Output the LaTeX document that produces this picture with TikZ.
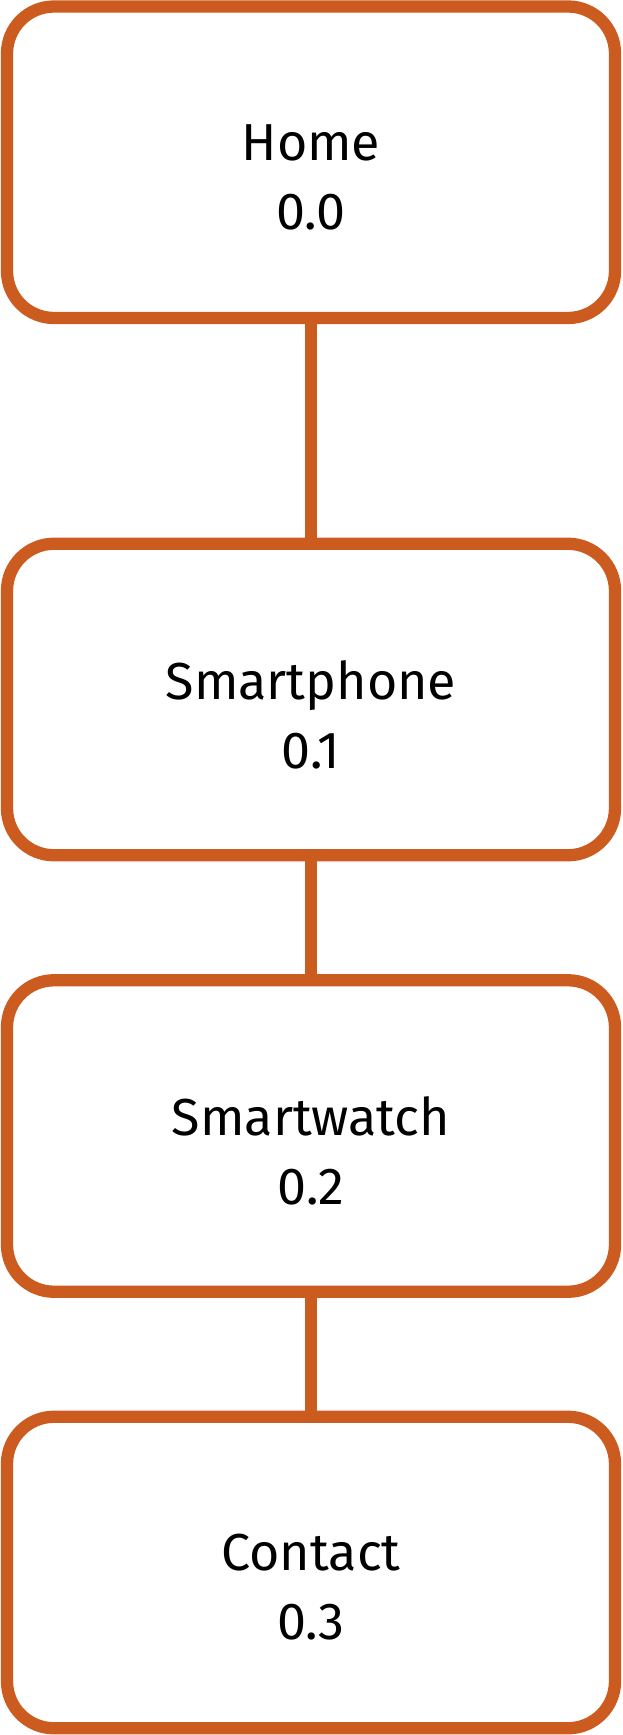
\documentclass[tikz,border=0pt]{standalone}
\usepackage{fontspec}
\setmainfont{Fira Sans}
\definecolor{rust}{RGB}{204,91,31}
\begin{document}
\begin{tikzpicture}[x=1pt,y=-1pt,
    page/.style={draw=rust,line width=12.3pt,rounded corners=47pt,
      minimum width=608pt,minimum height=311.5pt,outer sep=0pt},
    caption/.style={align=center,font=\fontsize{52}{69}\selectfont},
    link/.style={draw=rust,line width=12.3pt}]
      \useasboundingbox(0,0)rectangle(622,1735);
      \foreach \n/\y/\t/\v in{%
        home/162.25/Home/0.0, phone/699.5/Smartphone/0.1,
        watch/1136/Smartwatch/0.2, contact/1572.5/Contact/0.3}{%
        \node[page](\n) at(311,\y){};
        \node[caption](\n-text) at([yshift=-15pt]\n.center){\t\\\v};
      }
      \draw[link](home.south)--(phone.north)
                 (phone.south)--(watch.north)
                 (watch.south)--(contact.north);
\end{tikzpicture}
\end{document}
